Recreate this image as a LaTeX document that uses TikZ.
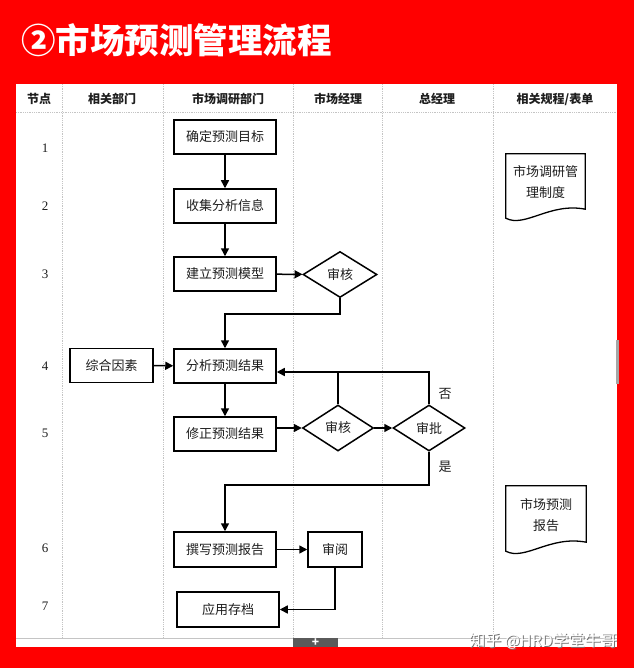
\documentclass[tikz,border=0pt]{standalone}
\usepackage{fontspec}
\setmainfont{Noto Sans CJK SC}
\newfontfamily\numfont{Liberation Serif}
\usetikzlibrary{arrows.meta,shapes.geometric,calc}
\definecolor{redbg}{HTML}{FF0000}
\definecolor{gridgray}{HTML}{C4C4C4}
\definecolor{txt}{HTML}{1E1E1E}
\definecolor{tabgray}{HTML}{5A5A5A}
\begin{document}
\begin{tikzpicture}[x=1pt,y=-1pt,
  box/.style={draw=black, line width=1.5pt, fill=white, minimum height=34, inner sep=0pt,
              font=\fontsize{13}{15}\selectfont, text=txt},
  dia/.style={diamond, draw=black, line width=1.5pt, fill=white, minimum width=74,
              minimum height=46, inner sep=0pt, font=\fontsize{13}{15}\selectfont, text=txt},
  arr/.style={line width=1.5pt, -{Triangle[length=8pt,width=8pt]}},
  conn/.style={line width=1.5pt},
  gridline/.style={draw=gridgray, line width=0.8pt, densely dotted},
  head/.style={font=\fontsize{12}{14}\bfseries\selectfont, text=txt},
  num/.style={font=\numfont\fontsize{13}{15}\selectfont, text=txt},
  doctext/.style={align=center, font=\fontsize{13}{21}\selectfont, text=txt},
  lbl/.style={font=\fontsize{13}{15}\selectfont, text=txt}
]
\useasboundingbox (0,0) rectangle (634,668);
% background
\fill[redbg] (0,0) rectangle (634,668);
\fill[white] (16,84) rectangle (617,647);
% title
\node[anchor=west, text=white, font=\fontsize{34.5}{38}\bfseries\selectfont, inner sep=0pt] (title) at (21,40) {②市场预测管理流程};
% grid
\foreach \xx in {62,163,293,382,493}{
  \draw[gridline] (\xx,84) -- (\xx,638);
}
\draw[gridline] (16,112) -- (617,112);
\draw[draw=gridgray, line width=0.8pt] (16,638) -- (617,638);
\fill[gray!70] (616,340) rectangle (619,384);
% tab
\fill[tabgray] (293,638) rectangle (338,647);
\node[text=white, font=\fontsize{12}{12}\bfseries\selectfont, inner sep=0pt] (plus) at (315.5,643) {+};
% headers
\node[head] (h1) at (39,99) {节点};
\node[head] (h2) at (112,99) {相关部门};
\node[head] (h3) at (228,99) {市场调研部门};
\node[head] (h4) at (338,99) {市场经理};
\node[head] (h5) at (437,99) {总经理};
\node[head] (h6) at (555,99) {相关规程/表单};
% numbers
\node[num] (n1) at (45,148) {1};
\node[num] (n2) at (45,206) {2};
\node[num] (n3) at (45,274) {3};
\node[num] (n4) at (45,366) {4};
\node[num] (n5) at (45,433) {5};
\node[num] (n6) at (45,548) {6};
\node[num] (n7) at (45,606) {7};
% boxes
\node[box, minimum width=102] (b1) at (225,137) {确定预测目标};
\node[box, minimum width=102] (b2) at (225,206) {收集分析信息};
\node[box, minimum width=102] (b3) at (225,274) {建立预测模型};
\node[dia] (d1) at (340,274.5) {审核};
\node[box, minimum width=83] (bz) at (111.5,365.5) {综合因素};
\node[box, minimum width=102] (b4) at (225,366) {分析预测结果};
\node[box, minimum width=102] (b5) at (225,434) {修正预测结果};
\node[dia, minimum width=71] (d2) at (338,428) {审核};
\node[dia, minimum width=72] (d3) at (429,428) {审批};
\node[box, minimum width=102, minimum height=35] (b6) at (225,549.5) {撰写预测报告};
\node[box, minimum width=54, minimum height=35] (b7) at (335,549.5) {审阅};
\node[box, minimum width=102, minimum height=35] (b8) at (228,609.5) {应用存档};
% labels
\node[lbl] (no) at (445,394) {否};
\node[lbl] (yes) at (445,467) {是};
% connectors
\draw[arr] (b1) -- (b2);
\draw[arr] (b2) -- (b3);
\draw[arr] (b3) -- (d1);
\coordinate (t) at (340,314);
\draw[arr] (d1.south) -- (t) -| (b4.north);
\draw[arr] (bz) -- (b4);
\draw[arr] (b4) -- (b5);
\draw[arr] (b5.east |- d2.west) -- (d2.west);
\draw[arr] (d2) -- (d3);
\coordinate (r) at (429,372);
\draw[arr] (d3.north) -- (r) -- (b4.east |- r);
\draw[conn] (d2.north) -- (d2.north |- r);
\coordinate (s) at (429,485);
\draw[arr] (d3.south) -- (s) -| (b6.north);
\draw[arr] (b6) -- (b7);
\draw[arr] (b7.south) |- (b8.east);
% documents
\node[minimum width=79, minimum height=64, inner sep=0pt] (doc1) at (545.5,186) {};
\draw[line width=1.3pt, fill=white] (doc1.north west) -- (doc1.north east) -- ($(doc1.south east)+(0,-9)$)
  .. controls ($(doc1.south west)+(44,-16)$) and ($(doc1.south west)+(19,10)$) .. (doc1.south west) -- cycle;
\node[doctext] (doc1t) at (545.5,182) {市场调研管\\理制度};
\node[minimum width=80, minimum height=65, inner sep=0pt] (doc2) at (546,518.5) {};
\draw[line width=1.3pt, fill=white] (doc2.north west) -- (doc2.north east) -- ($(doc2.south east)+(0,-9)$)
  .. controls ($(doc2.south west)+(44,-16)$) and ($(doc2.south west)+(19,10)$) .. (doc2.south west) -- cycle;
\node[doctext] (doc2t) at (546,515) {市场预测\\报告};
% watermark
\node[text=black!55, font=\fontsize{16}{18}\selectfont, anchor=east, inner sep=0pt] (wms) at (618,642) {知乎 @HRD学堂牛哥};
\node[text=white, font=\fontsize{16}{18}\selectfont, anchor=east, inner sep=0pt] (wm) at (617,641) {知乎 @HRD学堂牛哥};
\end{tikzpicture}
\end{document}
